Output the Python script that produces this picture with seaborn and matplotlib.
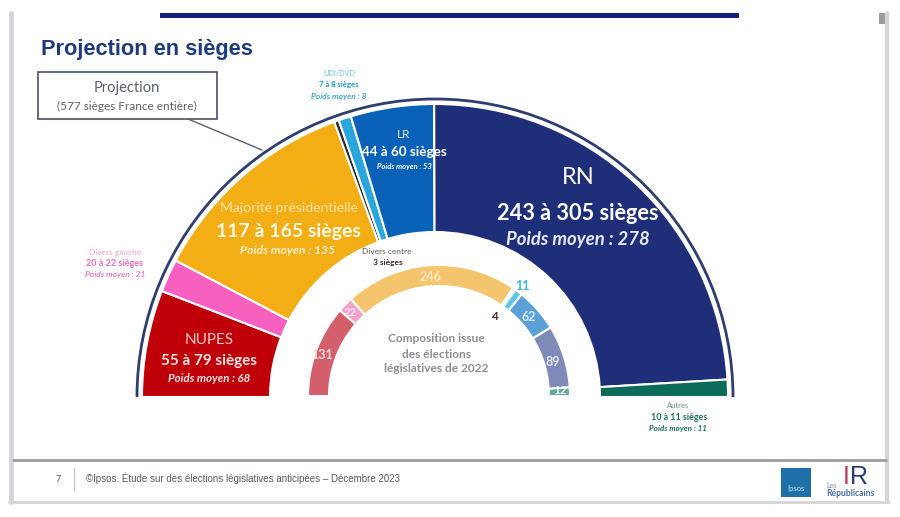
#!/usr/bin/env python3
"""Ipsos seat projection slide, half-donut version."""

import matplotlib

matplotlib.use("Agg")

import matplotlib.pyplot as plt
import seaborn as sns
from matplotlib.patches import Arc, Rectangle

TOTAL_SEATS = 577

PARTIES = ["NUPES", "Divers gauche", "Majorité présidentielle", "Divers centre", "UDI/DVD", "LR", "RN", "Autres"]
PROJECTED = [68, 21, 135, 3, 8, 53, 278, 11]
PROJECTED_COLORS = ["#C00009", "#F860C0", "#F2AE14", "#2A2A2A", "#2BA6DC", "#0A62B8", "#1E2E78", "#0B6A58"]

ELECTED_2022 = [131, 22, 246, 4, 11, 62, 89, 12]
ELECTED_COLORS = ["#D25F69", "#EFA3CC", "#F4C56C", "#FFFFFF", "#62C6E8", "#5BA0D6", "#7F8AB8", "#62A89A"]

WIDTH, HEIGHT = 900, 517


def half_donut(ax, values, colors, center, outer, inner, edge=1.5):
    wedges, _ = ax.pie(
        values + [sum(values)],
        colors=colors + ["none"],
        startangle=180,
        counterclock=False,
        center=(center[0], HEIGHT - center[1]),
        radius=outer,
        frame=True,
        wedgeprops={"width": outer - inner, "edgecolor": "white", "linewidth": edge},
    )
    wedges[-1].set_visible(False)


def label(ax, x, y, text, size, color="white", **kwargs):
    kwargs.setdefault("ha", "center")
    kwargs.setdefault("va", "center")
    ax.text(x, HEIGHT - y, text, fontsize=size, color=color, **kwargs)


def draw_slide(ax):
    frame = "#D4D5D8"
    ax.plot([11, 11], [HEIGHT - 13, HEIGHT - 502], color=frame, linewidth=3.5)
    ax.plot([887, 887], [HEIGHT - 13, HEIGHT - 502], color=frame, linewidth=3)
    ax.plot([9, 889], [HEIGHT - 502, HEIGHT - 502], color=frame, linewidth=2)
    ax.add_patch(Rectangle((160, HEIGHT - 18), 579, 5, facecolor="#141E78", edgecolor="none"))
    ax.add_patch(Rectangle((879, HEIGHT - 24), 6, 11, facecolor="#9A9A9A", edgecolor="none"))
    ax.plot([13, 886], [HEIGHT - 460, HEIGHT - 460], color="#9A9DA2", linewidth=2)
    ax.plot([74, 74], [HEIGHT - 468, HEIGHT - 490], color="#C8CAD0", linewidth=1)

    label(ax, 41, 49, "Projection en sièges", 15.7, "#1F3A7A", ha="left", fontweight="bold", family="Liberation Sans")
    label(ax, 58, 479, "7", 6.5, "#555B66")
    label(ax, 86, 478, "©Ipsos. Étude sur des élections législatives anticipées – Décembre 2023", 7, "#555B66",
          ha="left", family="Liberation Sans")

    ax.add_patch(Rectangle((781, HEIGHT - 497), 30, 29, facecolor="#1F6FA8", edgecolor="none"))
    label(ax, 796, 489, "Ipsos", 5.5, "#CFEFF5")
    label(ax, 859, 477, "R", 18, "#2B3A78", family="Liberation Sans")
    label(ax, 846, 477, "I", 18, "#B8404E", family="Liberation Sans")
    label(ax, 826, 485, "Les", 5, "#7A8AA5", ha="left")
    label(ax, 826, 494, "Républicains", 6.2, "#4A6FA5", ha="left", fontweight="bold")


def draw_labels(ax):
    # callout box
    ax.add_patch(Rectangle((38, HEIGHT - 119), 179, 47, facecolor="white", edgecolor="#4A5068", linewidth=1.2))
    ax.plot([188, 262], [HEIGHT - 119, HEIGHT - 150], color="#5A6070", linewidth=1)
    label(ax, 127, 88, "Projection", 10.5, "#5B6070")
    label(ax, 127, 106, "(577 sièges France entière)", 8.5, "#5B6070")

    label(ax, 578, 177, "RN", 17)
    label(ax, 578, 214, "243 à 305 sièges", 15.7, fontweight="bold")
    label(ax, 578, 240, "Poids moyen : 278", 13.3, "#E6EAF6", style="italic", fontweight="bold")

    label(ax, 404, 134, "LR", 8.5, "#DCE8F5")
    label(ax, 404, 152, "44 à 60 sièges", 9.7, fontweight="bold")
    label(ax, 404, 166, "Poids moyen : 53", 5.5, style="italic", fontweight="bold")

    label(ax, 289, 208, "Majorité présidentielle", 10, "#FBE3A6")
    label(ax, 288, 231, "117 à 165 sièges", 14, "#FFF8E6", fontweight="bold")
    label(ax, 288, 251, "Poids moyen : 135", 8.8, "#FDF0CC", style="italic", fontweight="bold")

    label(ax, 209, 340, "NUPES", 11, "#F5C9C9")
    label(ax, 209, 361, "55 à 79 sièges", 11, "#FBE6E6", fontweight="bold")
    label(ax, 209, 379, "Poids moyen : 68", 8.3, "#FBE6E6", style="italic", fontweight="bold")

    label(ax, 339, 73, "UDI/DVD", 5.2, "#6FC3E0")
    label(ax, 339, 85, "7 à 8 sièges", 5.6, "#1E9CC8", fontweight="bold")
    label(ax, 339, 96, "Poids moyen : 8", 6, "#3FA6CC", style="italic", fontweight="bold")

    label(ax, 115, 252, "Divers gauche", 6, "#F2A0CC")
    label(ax, 115, 264, "20 à 22 sièges", 6.5, "#EE6CB6", fontweight="bold")
    label(ax, 115, 275, "Poids moyen : 21", 6, "#EE7CBE", style="italic", fontweight="bold")

    label(ax, 387, 252, "Divers centre", 6, "#6A5A50")
    label(ax, 388, 263, "3 sièges", 6, "#3A2A2A", fontweight="bold")

    label(ax, 678, 406, "Autres", 5.5, "#6F8F88")
    label(ax, 679, 418, "10 à 11 sièges", 6.4, "#1F6F60", fontweight="bold")
    label(ax, 678, 429, "Poids moyen : 11", 5.8, "#1F6F60", style="italic", fontweight="bold")

    label(ax, 436, 339, "Composition issue", 8.6, "#8A8D96", fontweight="bold")
    label(ax, 436, 354, "des élections", 8.6, "#8A8D96", fontweight="bold")
    label(ax, 436, 369, "législatives de 2022", 8.6, "#8A8D96", fontweight="bold")

    label(ax, 431, 277, "246", 9, "#FBE8C2", fontweight="bold")
    label(ax, 322, 355, "131", 9, "#F8DADA", fontweight="bold")
    label(ax, 350, 313, "22", 8, "#FBE0EE", fontweight="bold")
    label(ax, 522, 286, "11", 9, "#3FB8E0", fontweight="bold")
    label(ax, 494, 317, "4", 8.5, "#4A2A2A", fontweight="bold")
    label(ax, 529, 317, "62", 9, "#DCEBF8", fontweight="bold")
    label(ax, 553, 362, "89", 9, "#E6E8F4", fontweight="bold")
    label(ax, 560, 391, "12", 8.5, "#F2FAF8", fontweight="bold")


def main():
    sns.set_theme(style="white")
    plt.rcParams["font.family"] = ["Lato", "DejaVu Sans"]

    fig = plt.figure(figsize=(9, 5.17), dpi=100, facecolor="white")
    ax = fig.add_axes([0, 0, 1, 1])

    draw_slide(ax)
    half_donut(ax, PROJECTED, PROJECTED_COLORS, (435, 397), 293, 165)
    half_donut(ax, ELECTED_2022, ELECTED_COLORS, (439, 396), 131, 110)
    ax.add_patch(Arc((435, HEIGHT - 397), 596, 596, theta1=0, theta2=180, color="#2F3E6E", linewidth=2))
    draw_labels(ax)

    ax.set_xlim(0, WIDTH)
    ax.set_ylim(0, HEIGHT)
    ax.set_aspect("equal")
    ax.axis("off")
    fig.savefig("out.png", dpi=100)
    plt.close(fig)


if __name__ == "__main__":
    main()
